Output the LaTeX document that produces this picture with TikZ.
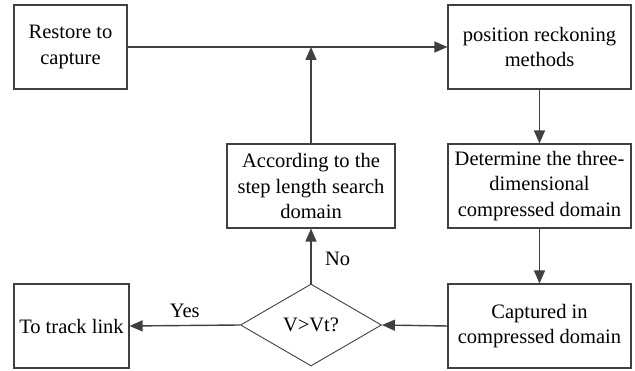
\documentclass[tikz,border=0pt]{standalone}
\usepackage{fontspec}
\setmainfont{Liberation Serif}
\usetikzlibrary{arrows.meta,shapes.geometric}
\definecolor{edgegray}{rgb}{0.25, 0.25, 0.25}

\tikzset{
  flowbox/.style={draw=edgegray, line width=1.1pt, fill=white, align=center,
    inner sep=0pt, font=\fontsize{20.5}{25.5}\selectfont},
  flowarrow/.style={-{Triangle[length=13pt,width=11pt]}, draw=edgegray, line width=1.4pt},
  flowlabel/.style={font=\fontsize{20.5}{25.5}\selectfont}
}

\begin{document}
\begin{tikzpicture}[x=1pt, y=-1pt]
      \useasboundingbox (0,0) rectangle (635,371);

      \node[flowbox, minimum width=113pt, minimum height=84pt] (restore) at (70.5, 47) {Restore to\\capture};
      \node[flowbox, minimum width=183pt, minimum height=84pt] (reckon) at (539.5, 47) {position reckoning\\methods};
      \node[flowbox, minimum width=168pt, minimum height=84pt] (search) at (311, 186) {According to the\\step length search\\domain};
      \node[flowbox, minimum width=183pt, minimum height=84pt] (determine) at (539.5, 186) {Determine the three-\\dimensional\\compressed domain};
      \node[flowbox, minimum width=183pt, minimum height=84pt] (captured) at (539.5, 326) {Captured in\\compressed domain};
      \node[flowbox, diamond, aspect=1.72, minimum width=141pt, minimum height=82pt, line width=0.9pt] (check) at (311, 325) {V>Vt?};
      \node[flowbox, minimum width=115pt, minimum height=84pt] (track) at (71.5, 326) {To track link};

      \draw[flowarrow] (restore) -- (reckon);
      \draw[flowarrow] (search.north) -- (search.north |- restore.east);
      \draw[flowarrow] (reckon) -- (determine);
      \draw[flowarrow] (determine) -- (captured);
      \draw[flowarrow] (captured.west) -- (check.east);
      \draw[flowarrow] (check.north) -- (search.south) node[flowlabel, pos=0.45, right=10pt] {No};
      \draw[flowarrow] (check.west) -- (track.east) node[flowlabel, midway, above=4pt] {Yes};

\end{tikzpicture}
\end{document}
